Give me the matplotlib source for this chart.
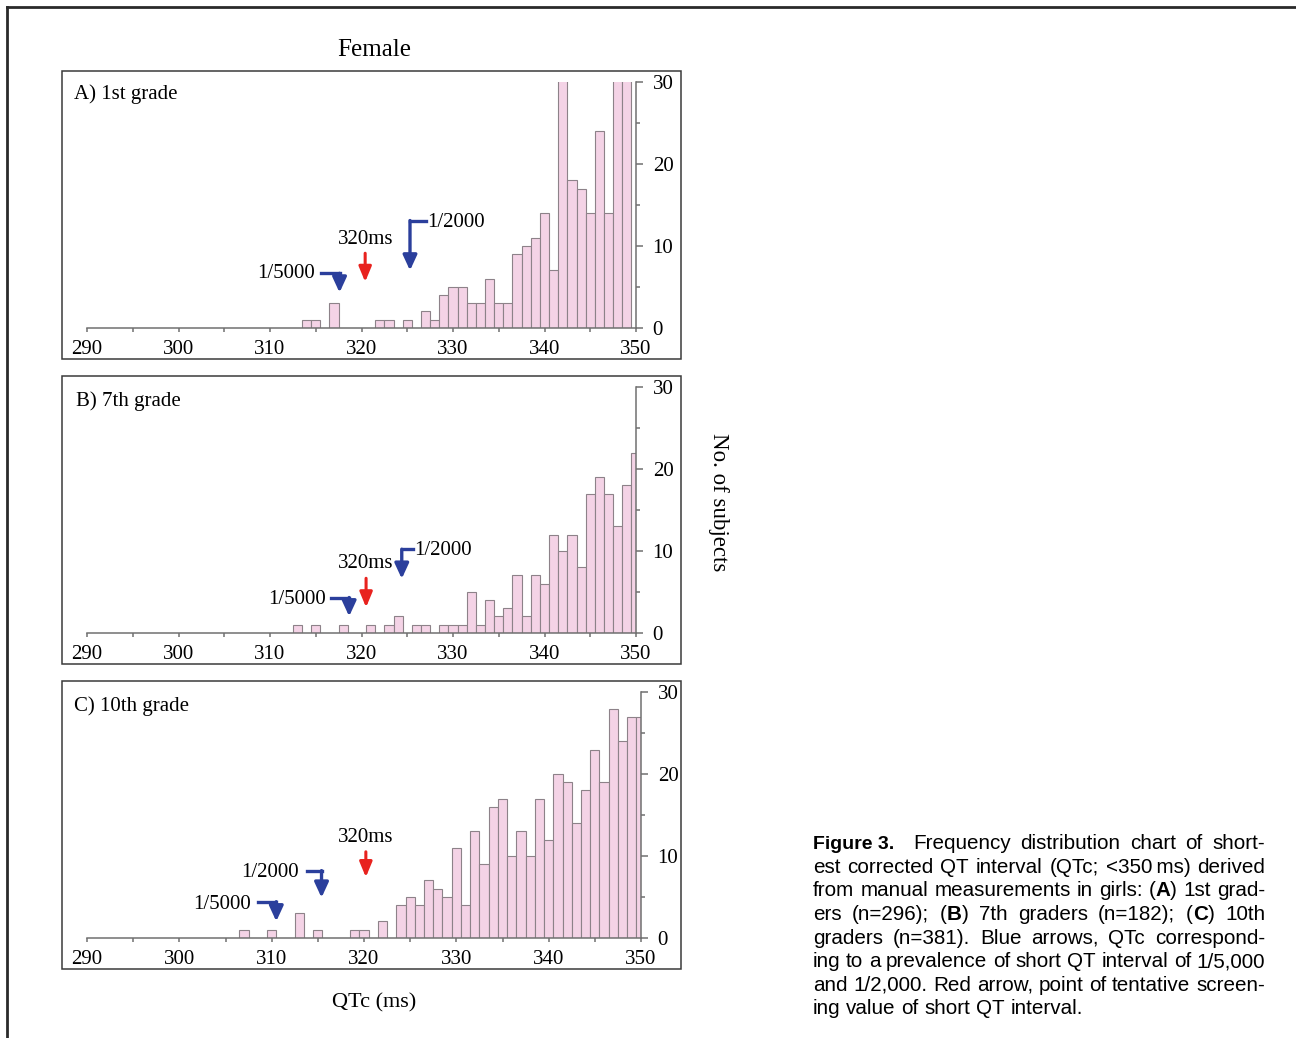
import matplotlib
matplotlib.use('Agg')
import matplotlib.pyplot as plt
import numpy as np
from matplotlib import font_manager
from matplotlib.lines import Line2D
from matplotlib.patches import Rectangle

# Counts per 1-ms QTc bin (only non-empty bins).
# Values of 31 stand for bars that run off the top of the 0-30 scale.
grade1_qtc = [314, 315, 317, 322, 323, 325, 327, 328, 329, 330, 331, 332, 333, 334, 335,
              336, 337, 338, 339, 340, 341, 342, 343, 344, 345, 346, 347, 348, 349]
grade1_n = [1, 1, 3, 1, 1, 1, 2, 1, 4, 5, 5, 3, 3, 6, 3,
            3, 9, 10, 11, 14, 7, 31, 18, 17, 14, 24, 14, 31, 31]

grade7_qtc = [313, 315, 318, 321, 323, 324, 326, 327, 329, 330, 331, 332, 333, 334, 335,
              336, 337, 338, 339, 340, 341, 342, 343, 344, 345, 346, 347, 348, 349, 350]
grade7_n = [1, 1, 1, 1, 1, 2, 1, 1, 1, 1, 1, 5, 1, 4, 2,
            3, 7, 2, 7, 6, 12, 10, 12, 8, 17, 19, 17, 13, 18, 22]

grade10_qtc = [307, 310, 313, 315, 319, 320, 322, 324, 325, 326, 327, 328, 329, 330, 331,
               332, 333, 334, 335, 336, 337, 338, 339, 340, 341, 342, 343, 344, 345, 346,
               347, 348, 349, 350]
grade10_n = [1, 1, 3, 1, 1, 1, 2, 4, 5, 4, 7, 6, 5, 11, 4,
             13, 9, 16, 17, 10, 13, 10, 17, 12, 20, 19, 14, 18, 23, 19,
             28, 24, 27, 27]

panel_titles = ['A) 1st grade', 'B) 7th grade', 'C) 10th grade']
x_ticks = [290, 300, 310, 320, 330, 340, 350]
y_ticks = [0, 10, 20, 30]

caption_lines = [
    'est corrected QT interval (QTc; <350\u2009ms) derived',
    'from manual measurements in girls: (*A*) 1st grad-',
    'ers (n=296); (*B*) 7th graders (n=182); (*C*) 10th',
    'graders (n=381). Blue arrows, QTc correspond-',
    'ing to a prevalence of short QT interval of 1/5,000',
    'and 1/2,000. Red arrow, point of tentative screen-',
    'ing value of short QT interval.',
]

W, H = 1296, 1038
SERIF = ['Liberation Serif', 'DejaVu Serif']
SANS = ['Liberation Sans', 'DejaVu Sans']
BLUE = '#2b3f9c'
RED = '#e8221e'
BAR = '#f4d3e6'
BAR_EDGE = '#8d8289'
AXC = '#707070'

fig = plt.figure(figsize=(W / 100, H / 100), dpi=100)


def fx(px):
    return px / W


def fy(py):
    return 1 - py / H


def bent_arrow(ax, x0, x1, y0, y1):
    # horizontal stroke then downward arrow (blue prevalence markers)
    ax.plot([x0, x1], [y0, y0], color=BLUE, lw=2.4, solid_capstyle='projecting')
    ax.annotate('', xy=(x1, y1), xytext=(x1, y0),
                arrowprops=dict(arrowstyle='-|>,head_length=0.65,head_width=0.3',
                                color=BLUE, lw=2.4, shrinkA=0, shrinkB=0,
                                mutation_scale=14))


def red_arrow(ax, x, y0, y1):
    ax.annotate('', xy=(x, y1), xytext=(x, y0),
                arrowprops=dict(arrowstyle='-|>,head_length=0.65,head_width=0.27',
                                color=RED, lw=2.2, shrinkA=0, shrinkB=0,
                                mutation_scale=14))


# panel geometry in pixels: frame top/bottom, axes y of 30 and 0, axes right edge
panels = [
    dict(qtc=grade1_qtc, n=grade1_n, frame=(71, 359), ax_y=(82.3, 327.7), right=636, lab=(74, 94)),
    dict(qtc=grade7_qtc, n=grade7_n, frame=(376, 664), ax_y=(387.3, 632.7), right=636, lab=(76, 401)),
    dict(qtc=grade10_qtc, n=grade10_n, frame=(681, 969), ax_y=(692.3, 937.7), right=641, lab=(74, 706)),
]

axes = []
for i, p in enumerate(panels):
    top, bot = p['ax_y']
    ax = fig.add_axes([fx(87), fy(bot), fx(p['right']) - fx(87), (bot - top) / H])
    ax.bar(p['qtc'], p['n'], width=1, color=BAR, edgecolor=BAR_EDGE, linewidth=0.8)
    ax.set_xlim(290, 350)
    ax.set_ylim(0, 30)
    ax.patch.set_visible(False)
    for s in ['top', 'left']:
        ax.spines[s].set_visible(False)
    for s in ['right', 'bottom']:
        ax.spines[s].set_color(AXC)
        ax.spines[s].set_linewidth(1.1)
    ax.yaxis.tick_right()
    ax.set_xticks(x_ticks)
    ax.set_xticks(np.array(x_ticks[:-1]) + 5, minor=True)
    ax.set_yticks(y_ticks)
    ax.set_yticks([5, 15, 25], minor=True)
    ax.tick_params(axis='x', which='both', direction='out', length=3, width=1.1,
                   color=AXC, pad=5.5, labelsize=15)
    ax.tick_params(axis='y', which='major', direction='out', length=5, width=1.1,
                   color=AXC, pad=7, labelsize=15)
    ax.tick_params(axis='y', which='minor', direction='out', length=3, width=1.1, color=AXC)
    for lab in ax.get_xticklabels() + ax.get_yticklabels():
        lab.set_family(SERIF)
    # frame around the panel
    f0, f1 = p['frame']
    fig.add_artist(Rectangle((fx(62), fy(f1)), fx(681) - fx(62), (f1 - f0) / H,
                             transform=fig.transFigure, fill=False, ec='#3a3a3a', lw=1.1))
    fig.text(fx(p['lab'][0]), fy(p['lab'][1]), panel_titles[i], family=SERIF,
             fontsize=15, va='center', ha='left')
    axes.append(ax)

txt = dict(family=SERIF, fontsize=15, va='center')

# A) 1st grade
ax = axes[0]
ax.text(320.5, 10.8, '320ms', ha='center', **txt)
red_arrow(ax, 320.4, 9.1, 5.6)
ax.text(314.9, 6.6, '1/5000', ha='right', **txt)
bent_arrow(ax, 315.6, 317.6, 6.65, 4.3)
ax.text(327.2, 12.9, '1/2000', ha='left', **txt)
bent_arrow(ax, 327.0, 325.3, 13.1, 7.0)

# B) 7th grade
ax = axes[1]
ax.text(320.5, 8.4, '320ms', ha='center', **txt)
red_arrow(ax, 320.5, 6.65, 3.1)
ax.text(316.1, 4.0, '1/5000', ha='right', **txt)
bent_arrow(ax, 316.7, 318.65, 4.3, 2.0)
ax.text(325.8, 10.1, '1/2000', ha='left', **txt)
bent_arrow(ax, 325.6, 324.4, 10.2, 6.6)

# C) 10th grade
ax = axes[2]
ax.text(320.2, 12.3, '320ms', ha='center', **txt)
red_arrow(ax, 320.2, 10.5, 7.4)
ax.text(312.9, 8.0, '1/2000', ha='right', **txt)
bent_arrow(ax, 313.8, 315.4, 8.2, 4.9)
ax.text(307.8, 4.1, '1/5000', ha='right', **txt)
bent_arrow(ax, 308.5, 310.5, 4.4, 2.0)

fig.text(fx(374), fy(50), 'Female', family=SERIF, fontsize=18, ha='center', va='center')
fig.text(fx(374), fy(1003), 'QTc (ms)', family=SERIF, fontsize=16, ha='center', va='center')
fig.text(fx(719), fy(502), 'No. of subjects', family=SERIF, fontsize=16.5, rotation=270,
         ha='center', va='center')

# outer border (cut off at right and bottom)
fig.add_artist(Line2D([fx(7), 1], [fy(7), fy(7)], transform=fig.transFigure, color='#2a2a2a', lw=2))
fig.add_artist(Line2D([fx(7), fx(7)], [fy(7), 0], transform=fig.transFigure, color='#2a2a2a', lw=2))

# caption, justified line by line
renderer = fig.canvas.get_renderer()
names = {f.name for f in font_manager.fontManager.ttflist}
if 'Liberation Sans Narrow' in names:
    fig_style = dict(family=['Liberation Sans Narrow'], weight='bold', fontsize=16)
else:
    fig_style = dict(family=SANS, weight='bold', fontsize=14)
norm_style = dict(family=SANS, fontsize=14.9)
bold_style = dict(family=SANS, fontsize=14.9, weight='bold')


def seg_width(s, style):
    t = fig.text(0, 0, s, **style)
    w = t.get_window_extent(renderer).width
    t.remove()
    return w


def place_line(words, left, right, base, justify=True):
    # words: list of lists of (text, style)
    widths = [sum(seg_width(s, st) for s, st in w) for w in words]
    if justify and len(words) > 1:
        gap = (right - left - sum(widths)) / (len(words) - 1)
    else:
        gap = seg_width('a a', norm_style) - 2 * seg_width('a', norm_style)
    x = left
    for w, wd in zip(words, widths):
        for s, st in w:
            fig.text(fx(x), fy(base), s, va='baseline', ha='left', **st)
            x += seg_width(s, st)
        x += gap


def parse(line):
    words = []
    for w in line.split(' '):
        parts = w.split('*')
        segs = [(s, bold_style if k % 2 else norm_style) for k, s in enumerate(parts) if s]
        words.append(segs)
    return words


CAP_L, CAP_R = 813, 1265
base0, step = 849.3, 23.6
fig.text(fx(CAP_L), fy(base0), 'Figure 3.', va='baseline', ha='left', **fig_style)
place_line(parse('Frequency distribution chart of short-'), 913, CAP_R, base0)
for k, line in enumerate(caption_lines):
    last = k == len(caption_lines) - 1
    place_line(parse(line), CAP_L, CAP_R, base0 + step * (k + 1), justify=not last)

fig.savefig('out.png', dpi=100)
